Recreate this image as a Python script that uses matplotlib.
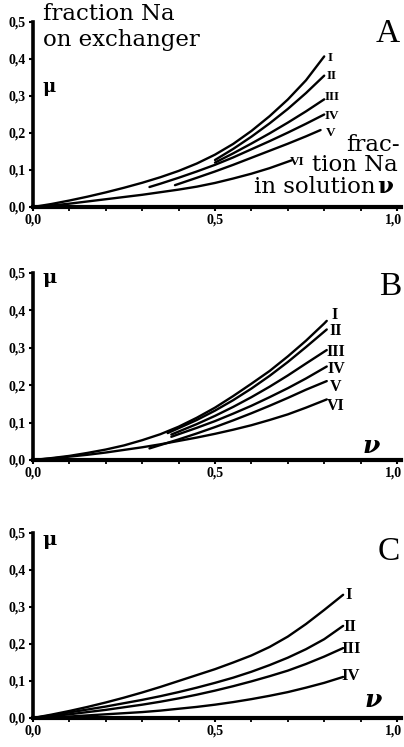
import matplotlib
matplotlib.use("Agg")
import matplotlib.pyplot as plt
from matplotlib.ticker import FuncFormatter, FixedLocator

# ---------------- data ----------------
# Panel A
A_I_x = [0, 0.05, 0.1, 0.15, 0.2, 0.25, 0.3, 0.35, 0.4, 0.45, 0.5, 0.55, 0.6, 0.65, 0.7, 0.75, 0.8]
A_I_y = [0, 0.008, 0.0175, 0.028, 0.0395, 0.052, 0.0655, 0.0805, 0.0975, 0.1175, 0.1415,
         0.1705, 0.2055, 0.2455, 0.2905, 0.3425, 0.407]
A_II_x = [0.5, 0.55, 0.6, 0.65, 0.7, 0.75, 0.8]
A_II_y = [0.127, 0.157, 0.19, 0.226, 0.265, 0.308, 0.355]
A_III_x = [0.5, 0.55, 0.6, 0.65, 0.7, 0.75, 0.8]
A_III_y = [0.12, 0.145, 0.1715, 0.199, 0.228, 0.2585, 0.291]
A_IV_x = [0.32, 0.35, 0.4, 0.45, 0.5, 0.55, 0.6, 0.65, 0.7, 0.75, 0.8]
A_IV_y = [0.054, 0.063, 0.079, 0.096, 0.114, 0.134, 0.156, 0.178, 0.201, 0.225, 0.25]
A_V_x = [0.39, 0.45, 0.5, 0.55, 0.6, 0.65, 0.7, 0.75, 0.79]
A_V_y = [0.059, 0.079, 0.096, 0.114, 0.133, 0.152, 0.171, 0.191, 0.208]
A_VI_x = [0, 0.05, 0.1, 0.15, 0.2, 0.25, 0.3, 0.35, 0.4, 0.45, 0.5, 0.55, 0.6, 0.65, 0.71]
A_VI_y = [0, 0.004, 0.009, 0.015, 0.021, 0.027, 0.033, 0.04, 0.047, 0.055, 0.065, 0.077,
          0.09, 0.105, 0.126]

# Panel B
B_I_x = [0, 0.05, 0.1, 0.15, 0.2, 0.25, 0.3, 0.35, 0.4, 0.45, 0.5, 0.55, 0.6, 0.65, 0.7,
         0.75, 0.8, 0.807]
B_I_y = [0, 0.005, 0.011, 0.019, 0.028, 0.039, 0.053, 0.069, 0.089, 0.113, 0.14, 0.171,
         0.204, 0.238, 0.277, 0.319, 0.365, 0.372]
B_II_x = [0.37, 0.4, 0.45, 0.5, 0.55, 0.6, 0.65, 0.7, 0.75, 0.807]
B_II_y = [0.072, 0.085, 0.107, 0.132, 0.16, 0.191, 0.225, 0.262, 0.302, 0.349]
B_III_x = [0.38, 0.4, 0.45, 0.5, 0.55, 0.6, 0.65, 0.7, 0.75, 0.807]
B_III_y = [0.068, 0.076, 0.096, 0.118, 0.142, 0.168, 0.196, 0.226, 0.258, 0.294]
B_IV_x = [0.38, 0.4, 0.45, 0.5, 0.55, 0.6, 0.65, 0.7, 0.75, 0.807]
B_IV_y = [0.062, 0.069, 0.086, 0.104, 0.124, 0.145, 0.168, 0.192, 0.218, 0.25]
B_V_x = [0.32, 0.35, 0.4, 0.45, 0.5, 0.55, 0.6, 0.65, 0.7, 0.75, 0.807]
B_V_y = [0.031, 0.04, 0.055, 0.071, 0.088, 0.106, 0.125, 0.145, 0.166, 0.188, 0.211]
B_VI_x = [0, 0.05, 0.1, 0.15, 0.2, 0.25, 0.3, 0.35, 0.4, 0.45, 0.5, 0.55, 0.6, 0.65, 0.7,
          0.75, 0.807]
B_VI_y = [0, 0.004, 0.009, 0.014, 0.02, 0.027, 0.034, 0.042, 0.051, 0.06, 0.07, 0.081,
          0.093, 0.107, 0.122, 0.14, 0.162]

# Panel C
C_x = [0, 0.05, 0.1, 0.15, 0.2, 0.25, 0.3, 0.35, 0.4, 0.45, 0.5, 0.55, 0.6, 0.65, 0.7,
       0.75, 0.8, 0.852]
C_I_y = [0, 0.009, 0.019, 0.03, 0.042, 0.055, 0.069, 0.084, 0.1, 0.116, 0.132, 0.15,
         0.169, 0.192, 0.22, 0.254, 0.292, 0.333]
C_II_y = [0, 0.007, 0.015, 0.023, 0.031, 0.04, 0.049, 0.059, 0.07, 0.082, 0.095, 0.109,
          0.125, 0.143, 0.163, 0.186, 0.213, 0.249]
C_III_y = [0, 0.005, 0.01, 0.016, 0.022, 0.029, 0.036, 0.044, 0.053, 0.063, 0.074, 0.086,
           0.099, 0.113, 0.128, 0.146, 0.166, 0.189]
C_IV_y = [0, 0.002, 0.004, 0.007, 0.01, 0.013, 0.016, 0.02, 0.025, 0.03, 0.036, 0.043,
          0.051, 0.06, 0.07, 0.082, 0.095, 0.111]

curve_labels_6 = ["I", "II", "III", "IV", "V", "VI"]
curve_labels_4 = ["I", "II", "III", "IV"]
y_ticks = [0.0, 0.1, 0.2, 0.3, 0.4, 0.5]
x_major = [0.0, 0.5, 1.0]
x_minor = [0.1, 0.2, 0.3, 0.4, 0.6, 0.7, 0.8, 0.9]
panel_names = ["A", "B", "C"]

# ---------------- figure ----------------
fig = plt.figure(figsize=(4.04, 7.47), dpi=100)

serif = "DejaVu Serif"
tser = "Liberation Serif"
fmt = lambda v: f"{v:.1f}".replace(".", ",")
comma = FuncFormatter(lambda v, p: fmt(v))
# last x tick label is drawn separately (shifted inwards so it stays on the page)
comma_x = FuncFormatter(lambda v, p: "" if v >= 0.999 else fmt(v))

def setup(ax):
    ax.set_xlim(0, 1.0)
    ax.set_ylim(0, 0.5)
    for s in ("top", "right"):
        ax.spines[s].set_visible(False)
    ax.spines["left"].set_linewidth(2.6)
    ax.spines["bottom"].set_linewidth(3.0)
    ax.spines["bottom"].set_bounds(0, 1.01)
    ax.yaxis.set_major_locator(FixedLocator(y_ticks))
    ax.xaxis.set_major_locator(FixedLocator(x_major))
    ax.xaxis.set_minor_locator(FixedLocator(x_minor))
    ax.xaxis.set_major_formatter(comma_x)
    ax.yaxis.set_major_formatter(comma)
    ax.tick_params(axis="both", which="major", length=3, width=1.5, pad=2,
                   direction="out", labelsize=10)
    ax.tick_params(axis="x", which="minor", length=3, width=1.3, direction="out")
    for lab in ax.get_xticklabels() + ax.get_yticklabels():
        lab.set_fontfamily(tser)
        lab.set_fontweight("bold")
    ax.annotate(fmt(x_major[-1]), xy=(x_major[-1], 0), xycoords="data",
                xytext=(4, -5), textcoords="offset points", ha="right", va="top",
                fontsize=10, fontweight="bold", family=tser, annotation_clip=False)
    ax.patch.set_alpha(0)

lw = 1.7
W = 364 / 404

def draw(ax, xs, ys):
    ax.plot(xs, ys, color="black", lw=lw, solid_capstyle="round",
            solid_joinstyle="round", clip_on=False)

# Panel A
axA = fig.add_axes([33 / 404, 1 - 207 / 747, W, 185 / 747])
setup(axA)
for xs, ys in [(A_I_x, A_I_y), (A_II_x, A_II_y), (A_III_x, A_III_y),
               (A_IV_x, A_IV_y), (A_V_x, A_V_y), (A_VI_x, A_VI_y)]:
    draw(axA, xs, ys)
A_lab_pos = [(0.817, 0.404), (0.82, 0.354), (0.821, 0.296), (0.821, 0.246),
             (0.817, 0.2), (0.727, 0.122)]
for t, (x, y) in zip(curve_labels_6, A_lab_pos):
    axA.text(x, y, t, fontsize=9.5, fontweight="bold", family=tser,
             ha="center", va="center", clip_on=False)
axA.text(0.027, 0.55, "fraction Na\non exchanger", fontsize=16.5, family=serif,
         ha="left", va="top", linespacing=1.22, clip_on=False)
axA.text(0.025, 0.31, "μ", fontsize=13, family=serif, fontweight="bold",
         ha="left", va="baseline", clip_on=False)
axA.text(1.008, 0.151, "frac-", fontsize=16.5, family=serif, ha="right",
         va="baseline", clip_on=False)
axA.text(1.003, 0.097, "tion Na", fontsize=16.5, family=serif, ha="right",
         va="baseline", clip_on=False)
axA.text(0.94, 0.038, "in solution", fontsize=16.5, family=serif, ha="right",
         va="baseline", clip_on=False)
axA.text(0.945, 0.038, "ν", fontsize=16.5, family=serif, fontweight="bold",
         ha="left", va="baseline", clip_on=False)
axA.text(0.975, 0.446, panel_names[0], fontsize=24, family=tser, ha="center",
         va="baseline", clip_on=False)

# Panel B
axB = fig.add_axes([33 / 404, 1 - 460 / 747, W, 187 / 747])
setup(axB)
for xs, ys in [(B_I_x, B_I_y), (B_II_x, B_II_y), (B_III_x, B_III_y),
               (B_IV_x, B_IV_y), (B_V_x, B_V_y), (B_VI_x, B_VI_y)]:
    draw(axB, xs, ys)
B_lab_pos = [(0.828, 0.388), (0.832, 0.344), (0.832, 0.29), (0.832, 0.243),
             (0.832, 0.195), (0.832, 0.144)]
for t, (x, y) in zip(curve_labels_6, B_lab_pos):
    axB.text(x, y, t, fontsize=11.5, fontweight="bold", family=tser,
             ha="center", va="center", clip_on=False)
axB.text(0.027, 0.473, "μ", fontsize=14, family=serif, fontweight="bold",
         ha="left", va="baseline", clip_on=False)
axB.text(0.93, 0.019, "ν", fontsize=18, family=serif, fontweight="bold",
         style="italic", ha="center", va="baseline", clip_on=False)
axB.text(0.98, 0.441, panel_names[1], fontsize=24, family=tser, ha="center",
         va="baseline", clip_on=False)

# Panel C
axC = fig.add_axes([33 / 404, 1 - 718 / 747, W, 185 / 747])
setup(axC)
for ys in [C_I_y, C_II_y, C_III_y, C_IV_y]:
    draw(axC, C_x, ys)
C_lab_pos = [(0.868, 0.332), (0.87, 0.246), (0.873, 0.186), (0.873, 0.114)]
for t, (x, y) in zip(curve_labels_4, C_lab_pos):
    axC.text(x, y, t, fontsize=12, fontweight="bold", family=tser,
             ha="center", va="center", clip_on=False)
axC.text(0.027, 0.468, "μ", fontsize=14, family=serif, fontweight="bold",
         ha="left", va="baseline", clip_on=False)
axC.text(0.935, 0.03, "ν", fontsize=18, family=serif, fontweight="bold",
         style="italic", ha="center", va="baseline", clip_on=False)
axC.text(0.978, 0.427, panel_names[2], fontsize=24, family=tser, ha="center",
         va="baseline", clip_on=False)

fig.savefig("out.png", dpi=100)
